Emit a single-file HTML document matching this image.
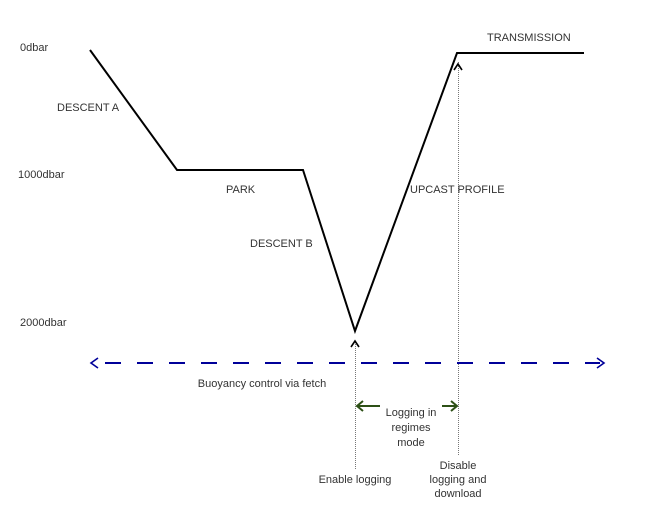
<!DOCTYPE html>
<html><head><style>
body{margin:0;background:#fff;}
svg{display:block;font-family:"Liberation Sans",Arial,sans-serif;font-size:11px;fill:#333;}
</style></head><body>
<svg width="655" height="519" viewBox="0 0 655 519" xmlns="http://www.w3.org/2000/svg">
<polyline points="90,50 177,170 303,170 355,331 457,53 584,53" fill="none" stroke="#000" stroke-width="2"/>
<line x1="355.5" y1="342" x2="355.5" y2="470" stroke="#777" stroke-width="1" stroke-dasharray="1,1"/>
<line x1="458.5" y1="62" x2="458.5" y2="456" stroke="#777" stroke-width="1" stroke-dasharray="1,1"/>
<polyline points="351,347 355,341 359,347" fill="none" stroke="#000" stroke-width="1.6"/>
<polyline points="454,70 458,64 462,70" fill="none" stroke="#000" stroke-width="1.6"/>
<line x1="95" y1="363" x2="600" y2="363" stroke="#000099" stroke-width="2" stroke-dasharray="16,16" stroke-dashoffset="-10"/>
<polyline points="98,358 91,363 98,368" fill="none" stroke="#000099" stroke-width="1.6"/>
<polyline points="597,358 604,363 597,368" fill="none" stroke="#000099" stroke-width="1.6"/>
<line x1="357" y1="406" x2="380" y2="406" stroke="#2d5016" stroke-width="2"/>
<polyline points="363,401 357,406 363,411" fill="none" stroke="#2d5016" stroke-width="2"/>
<line x1="442" y1="406" x2="457" y2="406" stroke="#2d5016" stroke-width="2"/>
<polyline points="451,401 457,406 451,411" fill="none" stroke="#2d5016" stroke-width="2"/>
<text x="20" y="51">0dbar</text>
<text x="57" y="111">DESCENT A</text>
<text x="18" y="178">1000dbar</text>
<text x="226" y="193">PARK</text>
<text x="250" y="247">DESCENT B</text>
<text x="20" y="326">2000dbar</text>
<text x="410" y="193">UPCAST PROFILE</text>
<text x="487" y="41">TRANSMISSION</text>
<text x="262" y="387" text-anchor="middle">Buoyancy control via fetch</text>
<text x="411" y="416" text-anchor="middle">Logging in</text>
<text x="411" y="431" text-anchor="middle">regimes</text>
<text x="411" y="446" text-anchor="middle">mode</text>
<text x="355" y="483" text-anchor="middle">Enable logging</text>
<text x="458" y="469" text-anchor="middle">Disable</text>
<text x="458" y="483" text-anchor="middle">logging and</text>
<text x="458" y="497" text-anchor="middle">download</text>
</svg>
</body></html>
